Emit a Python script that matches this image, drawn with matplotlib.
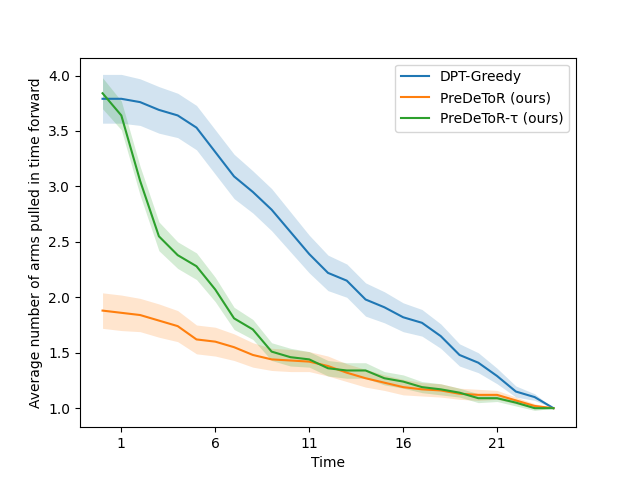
import numpy as np
import matplotlib
matplotlib.use("Agg")
import matplotlib.pyplot as plt

# time steps
time = list(range(25))

# mean number of arms pulled forward
dpt_mean = [3.79, 3.79, 3.76, 3.69, 3.64, 3.53, 3.31, 3.09, 2.95, 2.79, 2.59, 2.39, 2.22,
            2.15, 1.98, 1.91, 1.82, 1.77, 1.65, 1.48, 1.41, 1.29, 1.15, 1.10, 1.00]
pred_mean = [1.88, 1.86, 1.84, 1.79, 1.74, 1.62, 1.60, 1.55, 1.48, 1.44, 1.43, 1.42, 1.38,
             1.32, 1.27, 1.23, 1.19, 1.17, 1.16, 1.13, 1.12, 1.12, 1.07, 1.02, 1.00]
tau_mean = [3.84, 3.64, 3.05, 2.55, 2.38, 2.28, 2.07, 1.81, 1.71, 1.51, 1.46, 1.44, 1.36,
            1.34, 1.34, 1.27, 1.24, 1.19, 1.17, 1.14, 1.09, 1.09, 1.05, 1.00, 1.00]

# half-width of the shaded bands
dpt_err = [0.22, 0.22, 0.21, 0.21, 0.20, 0.20, 0.20, 0.20, 0.19, 0.19, 0.18, 0.17, 0.16,
           0.15, 0.15, 0.14, 0.13, 0.12, 0.11, 0.10, 0.09, 0.07, 0.05, 0.03, 0.0]
pred_err = [0.16, 0.16, 0.15, 0.15, 0.14, 0.13, 0.13, 0.12, 0.11, 0.10, 0.10, 0.09, 0.09,
            0.08, 0.08, 0.07, 0.07, 0.06, 0.06, 0.05, 0.05, 0.04, 0.03, 0.02, 0.0]
tau_err = [0.14, 0.13, 0.13, 0.13, 0.12, 0.12, 0.11, 0.10, 0.09, 0.08, 0.08, 0.07, 0.07,
           0.07, 0.07, 0.06, 0.06, 0.05, 0.05, 0.04, 0.04, 0.03, 0.03, 0.02, 0.0]

series = [
    ("DPT-Greedy", dpt_mean, dpt_err, "tab:blue"),
    ("PreDeToR (ours)", pred_mean, pred_err, "tab:orange"),
    ("PreDeToR-τ (ours)", tau_mean, tau_err, "tab:green"),
]

fig, ax = plt.subplots(figsize=(6.4, 4.8), dpi=100)
for label, mean, err, color in series:
    mean = np.array(mean)
    err = np.array(err)
    ax.plot(time, mean, label=label, color=color)
    ax.fill_between(time, mean - err, mean + err, color=color, alpha=0.2, linewidth=0)

ax.set_xticks(range(1, 25, 5))
ax.set_xlabel("Time")
ax.set_ylabel("Average number of arms pulled in time forward")
ax.legend(loc="upper right")

fig.savefig("out.png")
